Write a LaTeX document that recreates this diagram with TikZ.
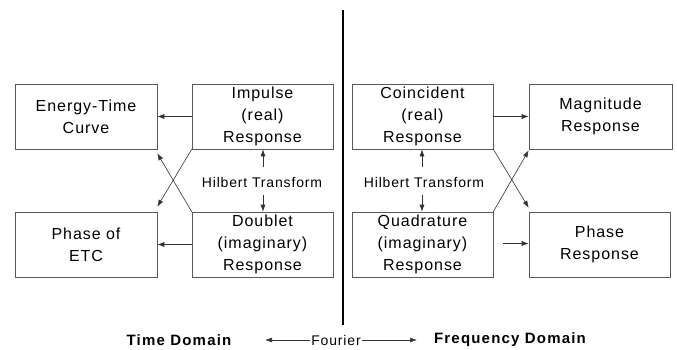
\documentclass[tikz,border=0pt]{standalone}
\usepackage{fontspec}
\setmainfont{Liberation Sans}
\usetikzlibrary{arrows.meta,calc}
\begin{document}
\begin{tikzpicture}[x=1pt,y=-1pt,
  box/.style={draw=black!65,line width=0.6pt,minimum width=141pt,minimum height=65pt,inner sep=0pt,align=center,
    font=\fontsize{16}{22}\selectfont\addfontfeature{LetterSpace=6}},
  lbl/.style={inner sep=1pt,font=\fontsize{14}{16}\selectfont\addfontfeature{LetterSpace=6}},
  dom/.style={inner sep=1pt,font=\fontsize{15}{17}\selectfont\bfseries\addfontfeature{LetterSpace=8}},
  arr/.style={draw=black!80,line width=0.6pt,-{Latex[length=7pt,width=5pt]}}]
\useasboundingbox (0,0) rectangle (677,350);
% divider
\draw[line width=2.6pt] (343,10) -- (343,325);
% time domain boxes
\node[box,minimum width=142pt] (etc) at (86,116.5) {Energy-Time\\Curve};
\node[box] (imp) at (262.5,116.5) {Impulse\\(real)\\Response};
\node[box,minimum width=142pt] (pha) at (86,244.5) {Phase of\\ETC};
\node[box] (dbl) at (262.5,244.5) {Doublet\\(imaginary)\\Response};
% frequency domain boxes
\node[box] (coi) at (422.5,116.5) {Coincident\\(real)\\Response};
\node[box,minimum width=143pt] (mag) at (600.5,116.5) {Magnitude\\Response};
\node[box] (qua) at (422.5,244.5) {Quadrature\\(imaginary)\\Response};
\node[box] (phr) at (599.5,244.5) {Phase\\Response};
% hilbert labels
\node[lbl] (hl) at (262,182) {Hilbert Transform};
\node[lbl] (hr) at (424,182) {Hilbert Transform};
\coordinate (hlu) at (263,167);
\coordinate (hld) at (263,195);
\coordinate (hru) at (422,167);
\coordinate (hrd) at (422,195);
\draw[arr] (hlu) -- (hlu |- imp.south);
\draw[arr] (hld) -- (hld |- dbl.north);
\draw[arr] (hru) -- (hru |- coi.south);
\draw[arr] (hrd) -- (hrd |- qua.north);
% time side connectors
\draw[arr] (imp.west) -- (etc.east);
\draw[arr] (dbl.west) -- (pha.east);
\draw[arr] (imp.south west) -- ($(pha.north east)+(0,-5)$);
\draw[arr] (dbl.north west) -- ($(etc.south east)+(0,4)$);
% frequency side connectors
\draw[arr] (coi.east) -- (mag.west);
\coordinate (qs) at ($(qua.east)+(10,-1)$);
\draw[arr] (qs) -- (qs -| phr.west);
\draw[arr] (coi.south east) -- ($(phr.north west)+(0,-4)$);
\draw[arr] (qua.north east) -- ($(mag.south west)+(0,1)$);
% bottom
\node[dom] (td) at (179,340) {Time Domain};
\node[lbl] (fo) at (336,340) {Fourier};
\node[dom] (fd) at (510,340) {Frequency Domain};
\coordinate (fl) at (265,340);
\coordinate (fr) at (417,340);
\draw[arr] (fo.west) -- (fl);
\draw[arr] (fo.east) -- (fr);
\end{tikzpicture}
\end{document}
